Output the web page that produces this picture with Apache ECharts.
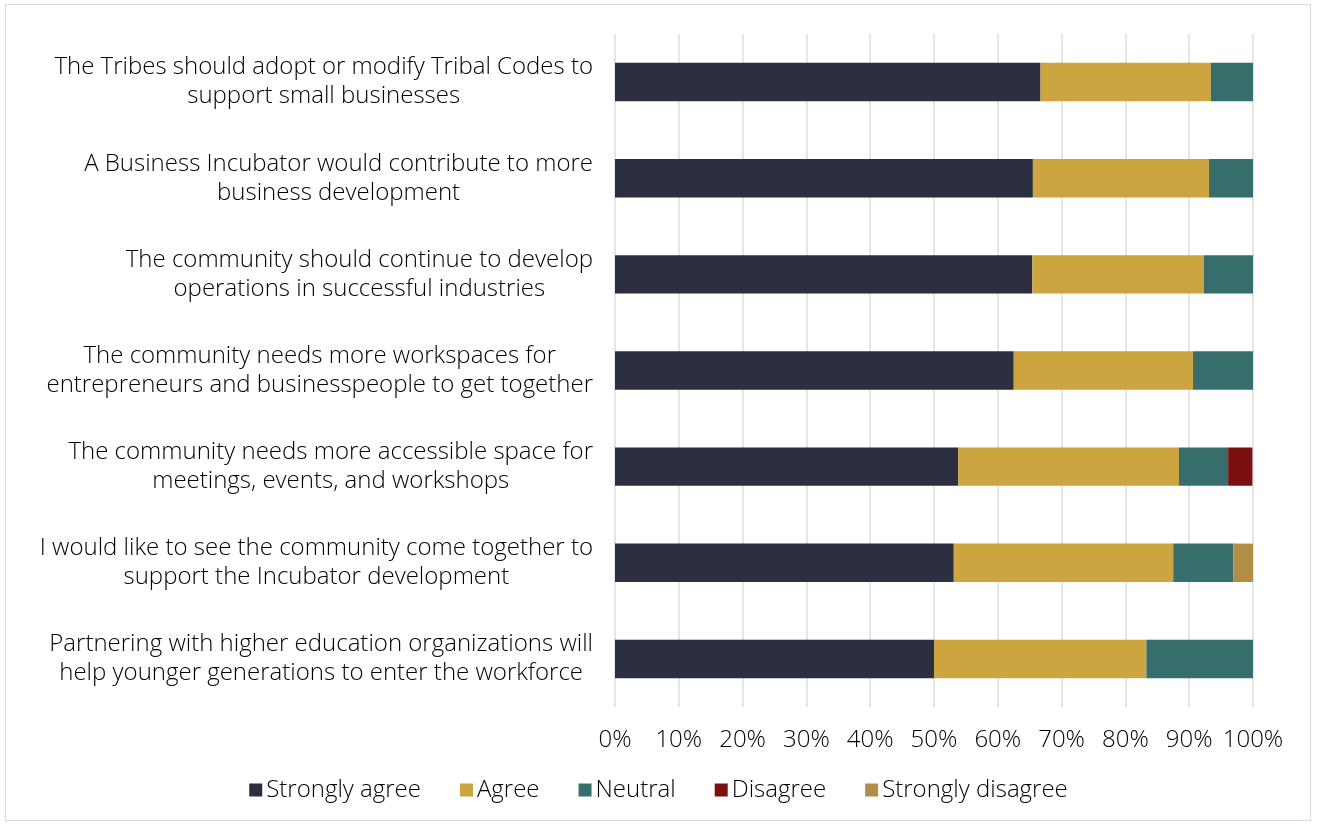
<!DOCTYPE html>
<html>
<head>
<meta charset="utf-8">
<script src="https://cdn.jsdelivr.net/npm/echarts@6/dist/echarts.min.js"></script>
<style>
  html, body { margin: 0; padding: 0; background: #ffffff; }
  #frame {
    position: absolute; left: 5px; top: 4px; width: 1306px; height: 817px;
    border: 1.5px solid #d9dae3; box-sizing: border-box;
  }
  #chart { position: absolute; left: 0; top: 0; width: 1317px; height: 827px; }
</style>
</head>
<body>
<div id="frame"></div>
<div id="chart"></div>
<script>
// Survey statements (top to bottom)
const statements = [
  'The Tribes should adopt or modify Tribal Codes to\nsupport small businesses',
  'A Business Incubator would contribute to more\nbusiness development',
  'The community should continue to develop\noperations in successful industries',
  'The community needs more workspaces for\nentrepreneurs and businesspeople to get together',
  'The community needs more accessible space for\nmeetings, events, and workshops',
  'I would like to see the community come together to\nsupport the Incubator development',
  'Partnering with higher education organizations will\nhelp younger generations to enter the workforce'
];

// Share of responses per statement, in percent
const stronglyAgree    = [66.7, 65.5, 65.4, 62.5, 53.8, 53.1, 50.0];
const agree            = [26.7, 27.6, 26.9, 28.1, 34.6, 34.4, 33.3];
const neutral          = [6.7, 6.9, 7.7, 9.4, 7.7, 9.4, 16.7];
const disagree         = [0, 0, 0, 0, 3.8, 0, 0];
const stronglyDisagree = [0, 0, 0, 0, 0, 3.1, 0];

const seriesNames  = ['Strongly agree', 'Agree', 'Neutral', 'Disagree', 'Strongly disagree'];
const seriesValues = [stronglyAgree, agree, neutral, disagree, stronglyDisagree];
const seriesColors = ['#2b2f40', '#cda540', '#376e6c', '#7a1010', '#b08e45'];

const FONT = '"Open Sans", Lato, sans-serif';
const WEIGHT = 300;
const SIZE = 24;
const TEXT = '#000000';

const chart = echarts.init(document.getElementById('chart'));

chart.setOption({
  backgroundColor: 'transparent',
  animation: false,
  grid: { left: 615, right: 64, top: 34, bottom: 120, containLabel: false },
  xAxis: {
    type: 'value',
    min: 0, max: 100, interval: 10,
    axisLine: { show: false },
    axisTick: { show: false },
    splitLine: { show: true, lineStyle: { color: '#d9dce5', width: 1.5 } },
    axisLabel: {
      formatter: v => v + '%',
      fontFamily: FONT, fontWeight: WEIGHT, fontSize: SIZE, color: TEXT, margin: 21
    }
  },
  yAxis: {
    type: 'category',
    inverse: true,
    data: statements,
    axisLine: { show: false },
    axisTick: { show: false },
    axisLabel: {
      margin: 22,
      align: 'right',
      formatter: v => v.split('\n').map(l => '{c|' + l + '}').join('\n'),
      rich: {
        c: { align: 'center', fontFamily: FONT, fontWeight: WEIGHT, fontSize: SIZE, color: TEXT, lineHeight: 29 }
      }
    }
  },
  legend: {
    bottom: 20,
    left: 'center',
    itemWidth: 13, itemHeight: 13, itemGap: 39,
    icon: 'rect',
    textStyle: { fontFamily: FONT, fontWeight: WEIGHT, fontSize: SIZE, color: TEXT, padding: [0, 0, 0, -1] },
    data: seriesNames
  },
  series: seriesNames.map((name, i) => ({
    name,
    type: 'bar',
    stack: 'total',
    barWidth: '40%',
    data: seriesValues[i],
    itemStyle: { color: seriesColors[i] },
    emphasis: { disabled: true }
  }))
});
</script>
</body>
</html>
